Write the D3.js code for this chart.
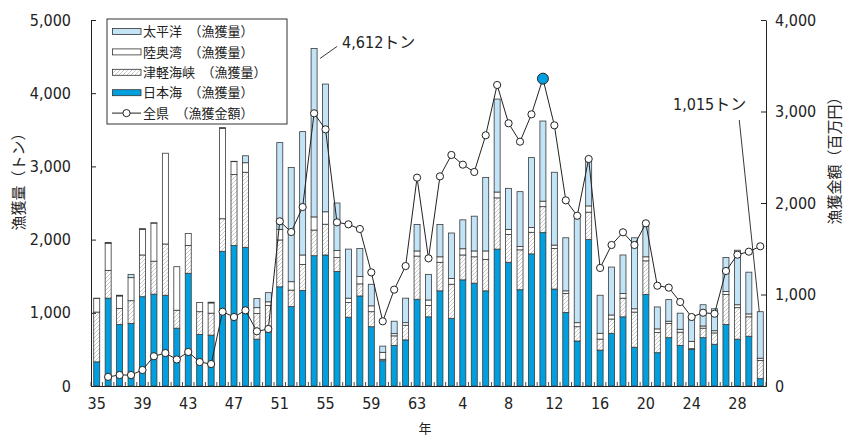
<!DOCTYPE html>
<html><head><meta charset="utf-8">
<script src="https://cdn.jsdelivr.net/npm/d3@7"></script>
<style>
body{margin:0;background:#fff;}
text{font-family:"Liberation Sans Narrow","DejaVu Sans Condensed","Noto Sans CJK JP",sans-serif;fill:#222;}
.jp{font-family:"Noto Sans CJK JP",sans-serif;}
</style></head>
<body>
<svg id="c" width="843" height="436"></svg>
<script>
const categories = ["35","36","37","38","39","40","41","42","43","44","45","46","47","48","49","50","51","52","53","54","55","56","57","58","59","60","61","62","63",
  "1","2","3","4","5","6","7","8","9","10","11","12","13","14","15","16","17","18","19","20","21","22","23","24","25","26","27","28","29","30"];
const tickLabels = ["35","39","43","47","51","55","59","63","4","8","12","16","20","24","28"];
// 日本海 (t)
const nihonkai = [330,1200,840,855,1220,1255,1240,790,1540,705,695,1840,1920,1895,640,735,1355,1085,1305,1780,1790,1565,940,1230,810,345,555,630,1185,
  945,1300,925,1450,1405,1300,1870,1690,1315,1805,2095,1325,1005,615,2000,490,720,945,530,1250,455,660,555,500,660,570,840,640,680,100];
// 津軽海峡 (t)
const tsugaru = [680,380,220,310,570,450,700,245,380,310,300,445,970,1025,350,365,640,225,355,350,420,190,200,165,205,20,130,200,590,
  155,390,465,340,360,430,700,380,545,295,355,555,260,195,375,150,195,255,480,460,275,195,180,10,130,155,410,430,265,250];
// 陸奥湾 (t)
const mutsu = [185,370,170,315,350,520,1240,595,165,125,140,1235,175,130,80,50,145,115,130,180,170,95,60,100,80,95,30,35,70,
  75,75,80,85,80,115,80,70,45,65,75,45,35,55,85,80,55,65,45,55,50,30,40,100,30,30,40,40,40,30];
// 太平洋 (t)
const taiheiyo = [5,10,10,45,10,5,0,0,0,0,10,10,5,95,125,125,1185,1560,1685,2302,1745,650,670,385,295,85,170,335,360,
  350,440,620,395,475,1005,1270,560,750,955,1095,995,725,1420,605,520,655,525,970,415,300,295,220,315,290,300,465,745,570,635];
// 全県 漁獲金額 (百万円)
const amount = [null,100,120,120,175,325,360,290,372,262,240,812,754,827,598,623,1800,1683,1956,2980,2805,1789,1767,1716,1242,707,1053,1311,2277,
  1395,2291,2525,2419,2339,2740,3290,2871,2670,2969,3359,2849,2029,1861,2481,1290,1541,1680,1541,1778,1096,1075,918,754,801,790,1257,1435,1468,1527];
const leftTicks = [0,1000,2000,3000,4000,5000];
const rightTicks = [0,1000,2000,3000,4000];
const seriesNames = ["日本海","津軽海峡","陸奥湾","太平洋"];
const legendLabels = ["太平洋　（漁獲量）","陸奥湾　（漁獲量）","津軽海峡　（漁獲量）","日本海　（漁獲量）","全県　（漁獲金額）"];
const annotations = [{i:19,text:"4,612トン"},{i:58,text:"1,015トン"}];

const svg = d3.select("#c");
const defs = svg.append("defs");
const pat = defs.append("pattern").attr("id","hatch").attr("patternUnits","userSpaceOnUse")
  .attr("width",4).attr("height",4);
pat.append("rect").attr("width",4).attr("height",4).attr("fill","#fff");
pat.append("path").attr("d","M-1,1 l2,-2 M0,4 l4,-4 M3,5 l2,-2").attr("stroke","#c4c4c4").attr("stroke-width",0.9);

const colors = {"日本海":"#00a0e0","津軽海峡":"url(#hatch)","陸奥湾":"#ffffff","太平洋":"#c2e4f6"};

const X0 = 91, X1 = 766, Y0 = 386, YT = 20;
const pad = 0.475;
const x = d3.scaleBand().domain(categories).range([X0,X1]).paddingInner(pad).paddingOuter(pad/2);
const yL = d3.scaleLinear().domain([0,5000]).range([Y0,YT]);
const yR = d3.scaleLinear().domain([0,4000]).range([Y0,YT]);

const table = categories.map((c,i)=>({cat:c,"日本海":nihonkai[i],"津軽海峡":tsugaru[i],"陸奥湾":mutsu[i],"太平洋":taiheiyo[i]}));
const stack = d3.stack().keys(seriesNames)(table);

const gb = svg.append("g");
stack.forEach(s=>{
  gb.append("g").selectAll("rect").data(s).join("rect")
    .attr("x",d=>x(d.data.cat)).attr("width",x.bandwidth())
    .attr("y",d=>yL(d[1])).attr("height",d=>Math.max(0,yL(d[0])-yL(d[1])))
    .attr("fill",colors[s.key]).attr("stroke","#3a3a3a").attr("stroke-width",0.8);
});

// axes
const fmt = d3.format(",");
const axL = svg.append("g").attr("transform",`translate(${X0},0)`)
  .call(d3.axisLeft(yL).tickValues(leftTicks).tickFormat(fmt).tickSize(-5).tickSizeOuter(0).tickPadding(20));
const axR = svg.append("g").attr("transform",`translate(${X1},0)`)
  .call(d3.axisRight(yR).tickValues(rightTicks).tickFormat(fmt).tickSize(-5).tickSizeOuter(0).tickPadding(9));
const axB = svg.append("g").attr("transform",`translate(0,${Y0})`)
  .call(d3.axisBottom(x).tickValues(tickLabels).tickSize(0).tickSizeOuter(0).tickPadding(12));
[axL,axR,axB].forEach(a=>{
  a.selectAll("path.domain").attr("stroke","#222").attr("stroke-width",1);
  a.selectAll(".tick line").attr("stroke","#222");
  a.selectAll("text").attr("font-size",16).attr("fill","#222")
    .style("font-family",'"Liberation Sans Narrow","DejaVu Sans Condensed",sans-serif');
});
// boundary ticks on x axis
const step = x.step();
svg.append("g").selectAll("line").data(categories.concat(["_end"])).join("line")
  .attr("x1",(d,i)=>X0+i*step).attr("x2",(d,i)=>X0+i*step)
  .attr("y1",Y0).attr("y2",Y0-4).attr("stroke","#222").attr("stroke-width",0.8);

// line
const pts = categories.map((c,i)=>({cat:c,v:amount[i]})).filter(d=>d.v!=null);
const line = d3.line().x(d=>x(d.cat)+x.bandwidth()/2).y(d=>yR(d.v));
svg.append("path").datum(pts).attr("d",line).attr("fill","none").attr("stroke","#222").attr("stroke-width",1);
const vmax = d3.max(pts,d=>d.v);
svg.append("g").selectAll("circle").data(pts).join("circle")
  .attr("cx",d=>x(d.cat)+x.bandwidth()/2).attr("cy",d=>yR(d.v))
  .attr("r",d=>d.v===vmax?5.5:3.6)
  .attr("fill",d=>d.v===vmax?"#00a0e0":"#fff").attr("stroke","#222").attr("stroke-width",1);

// axis titles
svg.append("text").attr("class","jp").attr("transform","translate(24,178) rotate(-90)")
  .attr("text-anchor","middle").attr("font-size",15).text("漁獲量（トン）");
svg.append("text").attr("class","jp").attr("transform","translate(840,157) rotate(-90)")
  .attr("text-anchor","middle").attr("font-size",15).text("漁獲金額（百万円）");
svg.append("text").attr("class","jp").attr("x",425).attr("y",427).attr("text-anchor","middle")
  .attr("dominant-baseline","central").attr("font-size",13).text("年");

// annotations
const totals = table.map(d=>seriesNames.reduce((a,k)=>a+d[k],0));
{
  const a = annotations[0];
  const bx = x(categories[a.i])+x.bandwidth(), by = yL(totals[a.i]);
  svg.append("line").attr("x1",bx+3).attr("y1",by+10).attr("x2",bx+20).attr("y2",by-2)
    .attr("stroke","#222").attr("stroke-width",0.9);
  svg.append("text").attr("x",bx+25).attr("y",by).attr("font-size",16).text(a.text);
}
{
  const a = annotations[1];
  const bx = x(categories[a.i])+x.bandwidth()/2, by = yL(totals[a.i]);
  svg.append("line").attr("x1",bx-21).attr("y1",120).attr("x2",bx-1).attr("y2",by)
    .attr("stroke","#222").attr("stroke-width",0.9);
  svg.append("text").attr("x",bx-14).attr("y",110).attr("text-anchor","end").attr("font-size",16).text(a.text);
}

// legend
const lg = svg.append("g").attr("transform","translate(107,19)");
lg.append("rect").attr("width",180).attr("height",105).attr("fill","#fff").attr("stroke","#333").attr("stroke-width",1);
const legendKeys = ["太平洋","陸奥湾","津軽海峡","日本海","全県"];
legendKeys.forEach((k,i)=>{
  const cy = 12.5 + i*20.4;
  if(k==="全県"){
    lg.append("line").attr("x1",5).attr("x2",34).attr("y1",cy).attr("y2",cy).attr("stroke","#222");
    lg.append("circle").attr("cx",19.5).attr("cy",cy).attr("r",3.6).attr("fill","#fff").attr("stroke","#222");
  } else {
    lg.append("rect").attr("x",5.5).attr("y",cy-3).attr("width",28.5).attr("height",6)
      .attr("fill",colors[k]).attr("stroke","#333").attr("stroke-width",0.8);
  }
  lg.append("text").attr("class","jp").attr("x",36).attr("y",cy+4.6).attr("font-size",13).text(legendLabels[i]);
});
</script>
</body></html>
